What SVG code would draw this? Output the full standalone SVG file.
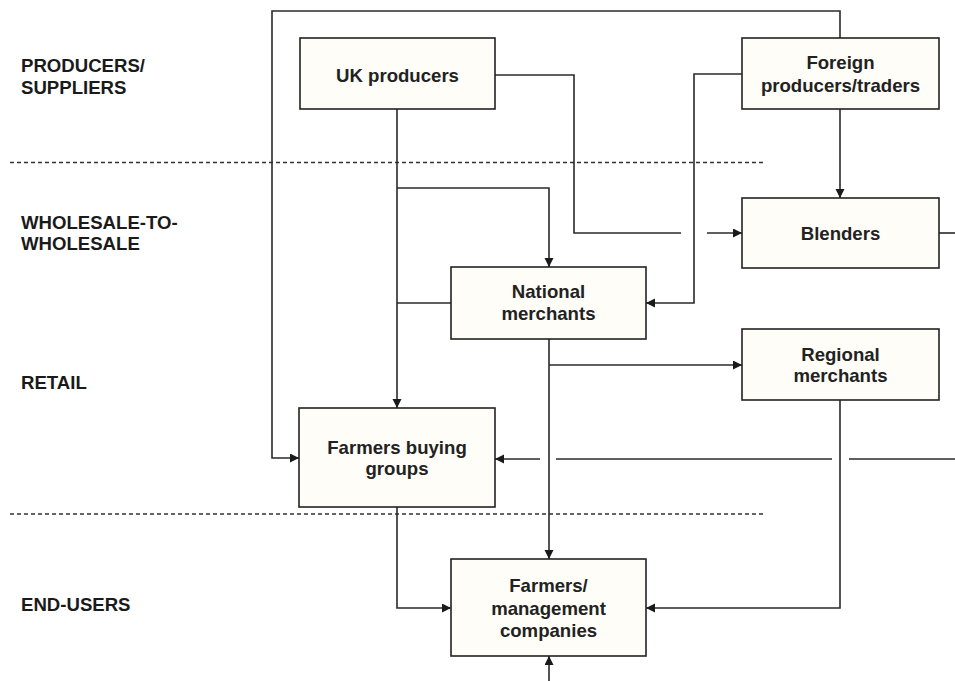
<svg xmlns="http://www.w3.org/2000/svg" width="955" height="681" viewBox="0 0 955 681">
<defs>
<marker id="arr" markerUnits="userSpaceOnUse" markerWidth="10" markerHeight="10" refX="9" refY="4.5" orient="auto">
<path d="M0,0 L9,4.5 L0,9 z" fill="#1a1a1a"/>
</marker>
<style>
.box{fill:#fefdf7;stroke:#222;stroke-width:1.6}
.t{font-family:"Liberation Sans",Arial,sans-serif;font-size:18.6px;font-weight:bold;fill:#222;text-anchor:middle}
.lab{font-family:"Liberation Sans",Arial,sans-serif;font-size:18.6px;font-weight:bold;fill:#1a1a1a}
.c{fill:none;stroke:#2a2a2a;stroke-width:1.6}
.ca{fill:none;stroke:#2a2a2a;stroke-width:1.6;marker-end:url(#arr)}
.dash{stroke:#333;stroke-width:1.3;stroke-dasharray:4,3;fill:none}
</style>
</defs>
<rect width="955" height="681" fill="#ffffff"/>
<g id="labels">
<text class="lab" x="21" y="72">PRODUCERS/</text>
<text class="lab" x="21" y="94">SUPPLIERS</text>
<text class="lab" x="21" y="229">WHOLESALE-TO-</text>
<text class="lab" x="21" y="250">WHOLESALE</text>
<text class="lab" x="21" y="389">RETAIL</text>
<text class="lab" x="21" y="611">END-USERS</text>
</g>
<g id="dividers">
<line class="dash" x1="10" y1="162.5" x2="763" y2="162.5"/>
<line class="dash" x1="10" y1="514" x2="763" y2="514"/>
</g>
<g id="connectors">
<path class="ca" d="M840,38 V11 H272 V458 H299"/>
<path class="c" d="M495,75 H574 V233 H681"/>
<path class="ca" d="M707,233 H742"/>
<path class="ca" d="M840,109 V198"/>
<path class="ca" d="M742,74 H694 V303 H646"/>
<path class="ca" d="M397,109 V408"/>
<path class="ca" d="M397,188 H549 V267"/>
<path class="c" d="M451,303 H397"/>
<path class="ca" d="M549,339 V559"/>
<path class="ca" d="M549,365 H742"/>
<path class="ca" d="M840,400 V608 H646"/>
<path class="c" d="M955,459 H849"/>
<path class="c" d="M832,459 H556"/>
<path class="ca" d="M540,459 H495"/>
<path class="c" d="M939,233 H955"/>
<path class="ca" d="M397,507 V608 H451"/>
<path class="ca" d="M549,681 V656"/>
</g>
<g id="uk-producers">
<rect class="box" x="300" y="38" width="195" height="71"/>
<text class="t" x="397.5" y="82">UK producers</text>
</g>
<g id="foreign-producers">
<rect class="box" x="742" y="38" width="197" height="71"/>
<text class="t" x="840.5" y="69">Foreign</text>
<text class="t" x="840.5" y="92">producers/traders</text>
</g>
<g id="blenders">
<rect class="box" x="742" y="198" width="197" height="70"/>
<text class="t" x="840.5" y="240">Blenders</text>
</g>
<g id="national-merchants">
<rect class="box" x="451" y="267" width="195" height="72"/>
<text class="t" x="548.5" y="298">National</text>
<text class="t" x="548.5" y="320">merchants</text>
</g>
<g id="regional-merchants">
<rect class="box" x="742" y="329" width="197" height="71"/>
<text class="t" x="840.5" y="360.5">Regional</text>
<text class="t" x="840.5" y="382">merchants</text>
</g>
<g id="farmers-buying-groups">
<rect class="box" x="299" y="408" width="196" height="99"/>
<text class="t" x="397" y="454">Farmers buying</text>
<text class="t" x="397" y="475">groups</text>
</g>
<g id="farmers-management">
<rect class="box" x="451" y="559" width="195" height="97"/>
<text class="t" x="548.5" y="592">Farmers/</text>
<text class="t" x="548.5" y="615">management</text>
<text class="t" x="548.5" y="637">companies</text>
</g>
</svg>
